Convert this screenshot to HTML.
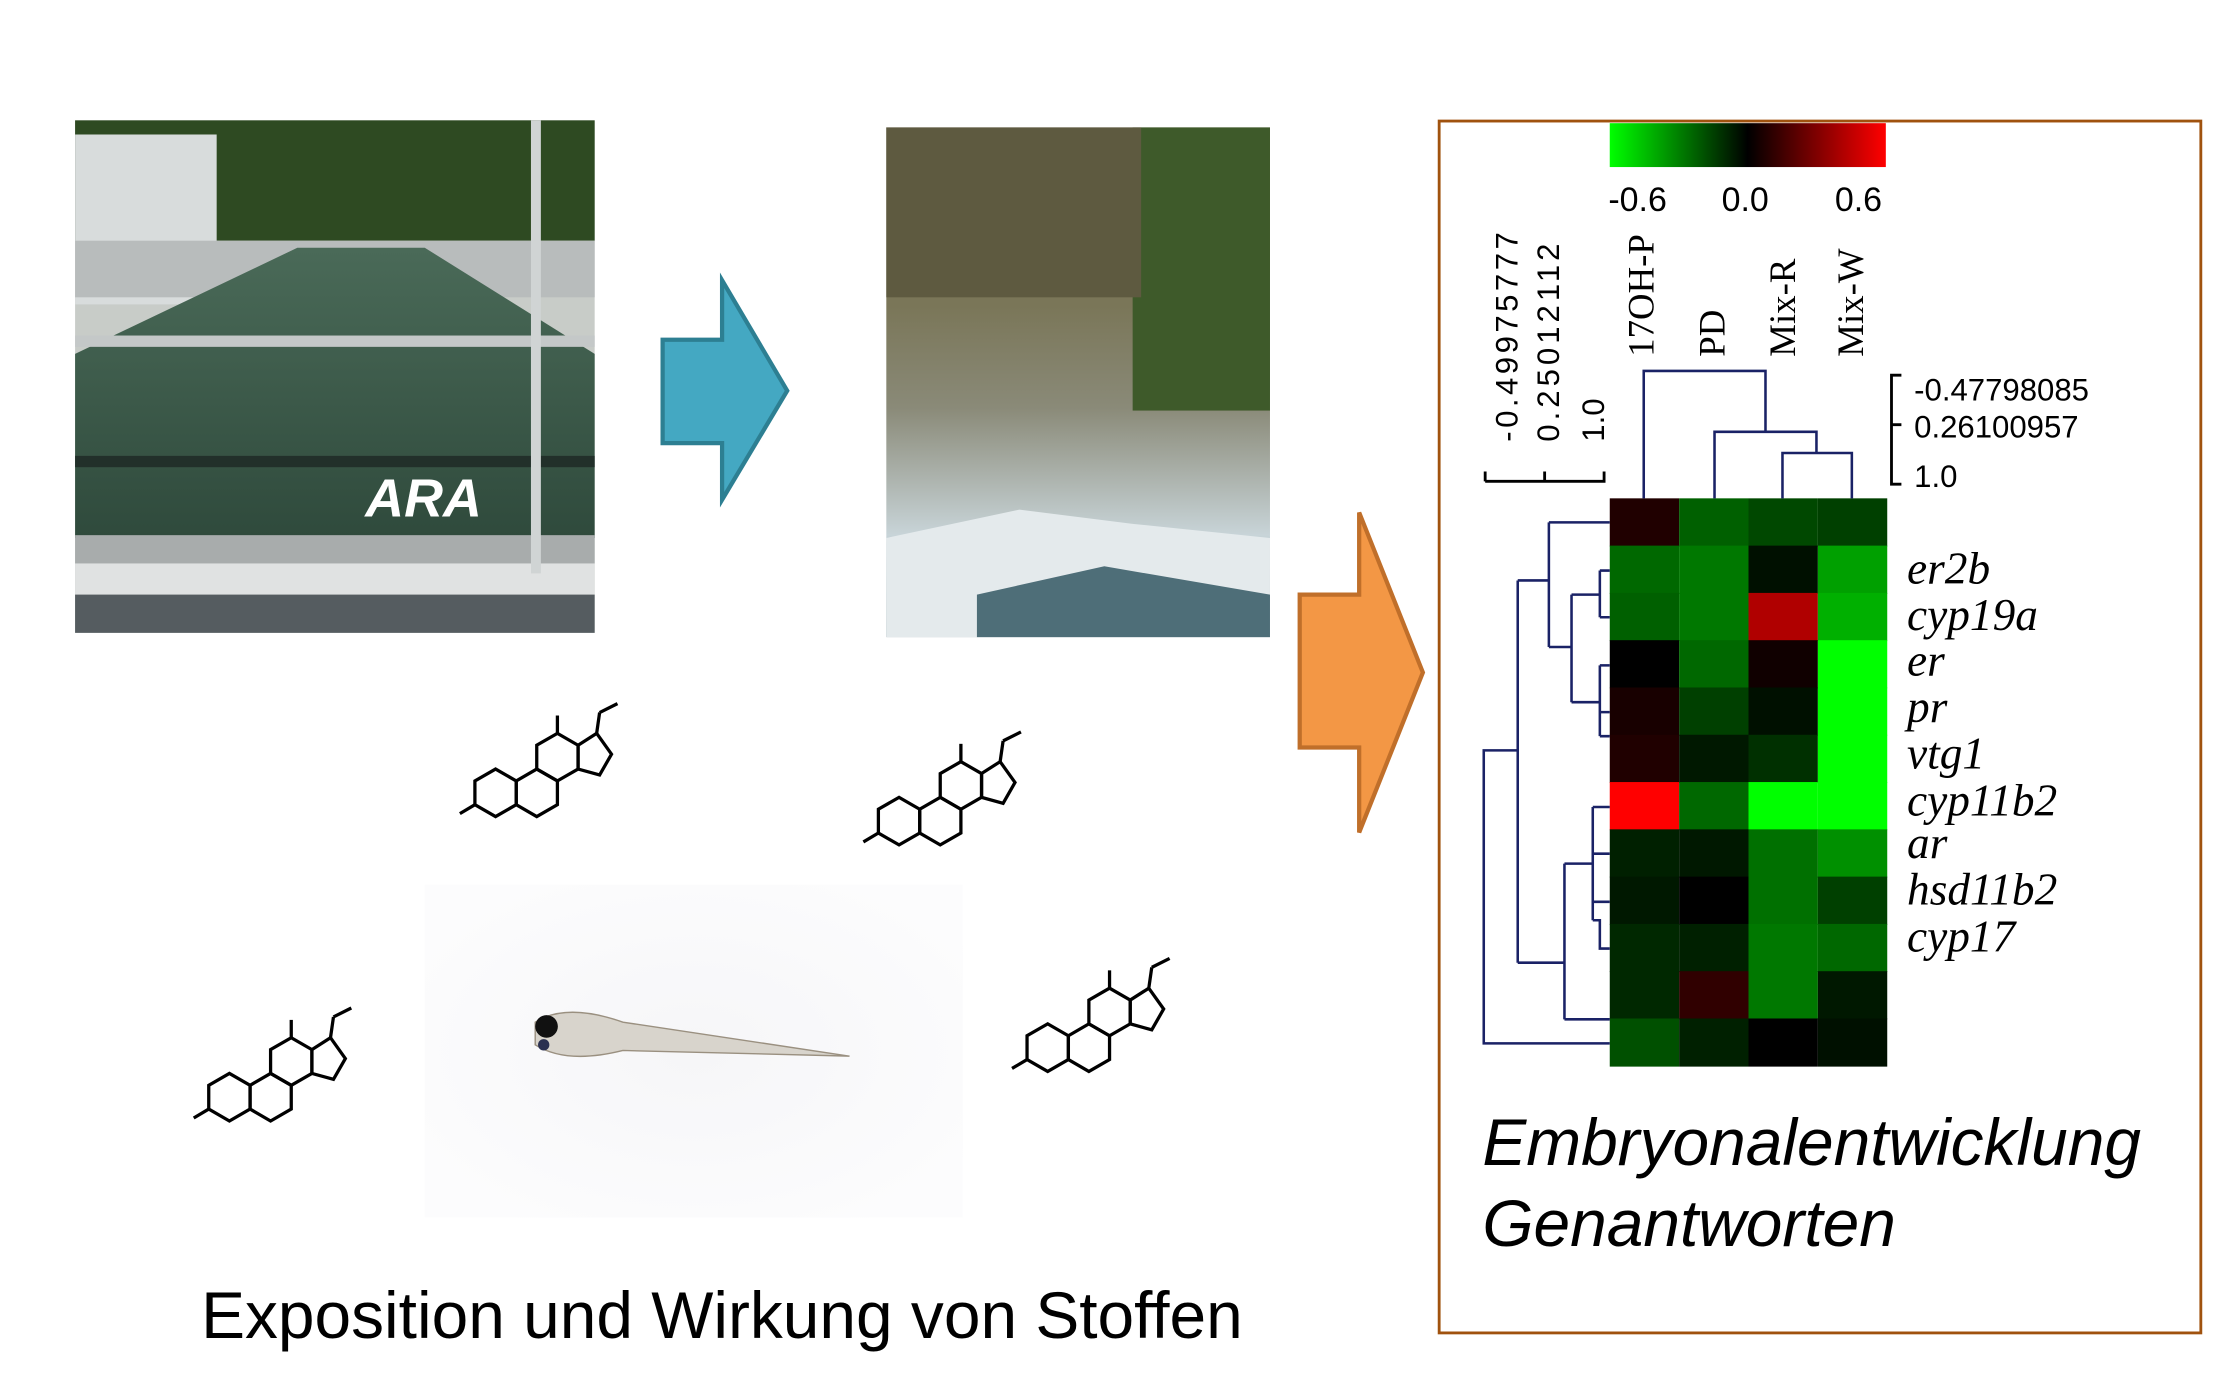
<!DOCTYPE html>
<html><head><meta charset="utf-8"><style>html,body{margin:0;padding:0;background:#fff}svg{display:block}</style></head><body>
<svg width="2220" height="1387" viewBox="0 0 1568 979.7" xmlns="http://www.w3.org/2000/svg">
<defs>
<linearGradient id="cb" x1="0" x2="1"><stop offset="0" stop-color="#00ff00"/><stop offset="0.5" stop-color="#000"/><stop offset="1" stop-color="#ff0000"/></linearGradient>
<linearGradient id="wat" x1="0" y1="0" x2="0" y2="1"><stop offset="0" stop-color="#4a6a58"/><stop offset="1" stop-color="#2f4a3c"/></linearGradient>
<linearGradient id="riv" x1="0" y1="0" x2="0" y2="1"><stop offset="0" stop-color="#6f6a50"/><stop offset="0.35" stop-color="#7a7658"/><stop offset="0.55" stop-color="#8a8a78"/><stop offset="0.8" stop-color="#c8d4d8"/><stop offset="1" stop-color="#5c7c84"/></linearGradient>
<radialGradient id="fishbg" cx="0.5" cy="0.5" r="0.6"><stop offset="0" stop-color="#f6f6f8"/><stop offset="1" stop-color="#fcfcfd"/></radialGradient>
<g id="ster" fill="none" stroke="#000" stroke-width="2.2">
<polygon points="13.9,-8 0,-16 -13.9,-8 -13.9,8 0,16 13.9,8"/>
<polygon points="41.6,-8 27.7,-16 13.9,-8 13.9,8 27.7,16 41.6,8"/>
<polygon points="55.5,-32 41.6,-40 27.7,-32 27.7,-16 41.6,-8 55.5,-16"/>
<polygon points="55.5,-32 55.5,-16 70,-12 78,-26 68,-40"/>
<line x1="-13.9" y1="8" x2="-24" y2="14"/><line x1="41.6" y1="-40" x2="41.6" y2="-52"/><line x1="68" y1="-40" x2="70" y2="-54"/><line x1="70" y1="-54" x2="82" y2="-60"/>
</g>
</defs>
<rect width="1568" height="979.7" fill="#fff"/>
<!-- photo 1 -->
<rect x="53" y="85" width="367" height="362" fill="#c8ccc8"/>
<rect x="53" y="85" width="367" height="85" fill="#2e4a22"/>
<rect x="53" y="95" width="100" height="120" fill="#d8dcdc"/>
<rect x="53" y="170" width="367" height="40" fill="#b8bcbc"/>
<polygon points="53,250 210,175 300,175 420,250 420,380 53,380" fill="url(#wat)"/>
<rect x="53" y="237" width="367" height="8" fill="#c4c8c8"/>
<rect x="53" y="322" width="367" height="8" fill="#22302a"/>
<rect x="53" y="378" width="367" height="20" fill="#a8acac"/>
<rect x="53" y="398" width="367" height="22" fill="#e0e2e2"/>
<rect x="53" y="420" width="367" height="27" fill="#555c60"/>
<rect x="375" y="85" width="7" height="320" fill="#d0d4d4"/>
<text x="258" y="365" font-family="Liberation Sans, sans-serif" font-size="38" font-weight="bold" font-style="italic" fill="#fff">ARA</text>
<!-- blue arrow -->
<polygon points="468,240 510,240 510,198 556,276 510,353 510,313 468,313" fill="#44a8c2" stroke="#2d7f92" stroke-width="3"/>
<!-- photo 2 -->
<rect x="626" y="90" width="271" height="360" fill="url(#riv)"/>
<rect x="800" y="90" width="97" height="200" fill="#3e5a2a"/>
<rect x="626" y="90" width="180" height="120" fill="#5e5a40"/>
<polygon points="626,380 720,360 800,370 897,380 897,450 626,450" fill="#e4eaec"/>
<polygon points="690,420 780,400 897,420 897,450 690,450" fill="#4e6e78"/>
<!-- orange arrow -->
<polygon points="918,420 960,420 960,362 1005,475 960,588 960,528 918,528" fill="#f39745" stroke="#c06f2a" stroke-width="3"/>
<!-- molecules -->
<use href="#ster" transform="translate(350,560) scale(1.05)"/>
<use href="#ster" transform="translate(635,580) scale(1.05)"/>
<use href="#ster" transform="translate(162,775) scale(1.05)"/>
<use href="#ster" transform="translate(740,740) scale(1.05)"/>
<!-- fish area -->
<rect x="300" y="625" width="380" height="235" fill="url(#fishbg)"/>
<path d="M378,722 Q400,708 440,722 L600,746 L440,742 Q400,752 378,738 Z" fill="#d8d4cc" stroke="#9a9080" stroke-width="1"/>
<circle cx="386" cy="725" r="8" fill="#111"/>
<circle cx="384" cy="738" r="4" fill="#2a3050"/>
<!-- bottom text -->
<text x="142" y="945" font-family="Liberation Sans, sans-serif" font-size="46.5" fill="#000">Exposition und Wirkung von Stoffen</text>
<!-- box -->
<rect x="1016.5" y="85.5" width="538" height="856" fill="#fff" stroke="#a0520e" stroke-width="2"/>
<rect x="1137" y="87" width="195" height="31" fill="url(#cb)"/>
<g font-family="Liberation Sans, sans-serif" font-size="24" fill="#000">
<text x="1136" y="149">-0.6</text><text x="1216" y="149">0.0</text><text x="1296" y="149">0.6</text>
</g>
<g font-family="Liberation Sans, sans-serif" font-size="22" fill="#000">
<text transform="translate(1072,312) rotate(-90)" textLength="148">-0.49975777</text>
<text transform="translate(1101,312) rotate(-90)" textLength="140">0.25012112</text>
<text transform="translate(1133,312) rotate(-90)">1.0</text>
<text x="1352" y="283">-0.47798085</text><text x="1352" y="309">0.26100957</text><text x="1352" y="344">1.0</text>
</g>
<g font-family="Liberation Serif, serif" font-size="26" fill="#000">
<text transform="translate(1168,252) rotate(-90)">17OH-P</text>
<text transform="translate(1218,252) rotate(-90)">PD</text>
<text transform="translate(1268,252) rotate(-90)">Mix-R</text>
<text transform="translate(1316,252) rotate(-90)">Mix-W</text>
</g>
<g fill="none" stroke="#000" stroke-width="2">
<path d="M1049,340 V333 M1049,340 H1133 V333 M1091,340 V333"/>
<path d="M1343,265 H1336 V342 H1343 M1336,300 H1343"/>
</g>
<!-- heatmap -->
<g>
<rect x="1137" y="352.0" width="49" height="34" fill="#200000"/><rect x="1186" y="352.0" width="49" height="34" fill="#006000"/><rect x="1235" y="352.0" width="49" height="34" fill="#004800"/><rect x="1284" y="352.0" width="49" height="34" fill="#004000"/>
<rect x="1137" y="385.4" width="49" height="34" fill="#006800"/><rect x="1186" y="385.4" width="49" height="34" fill="#007800"/><rect x="1235" y="385.4" width="49" height="34" fill="#001000"/><rect x="1284" y="385.4" width="49" height="34" fill="#00a000"/>
<rect x="1137" y="418.8" width="49" height="34" fill="#006000"/><rect x="1186" y="418.8" width="49" height="34" fill="#007800"/><rect x="1235" y="418.8" width="49" height="34" fill="#b00000"/><rect x="1284" y="418.8" width="49" height="34" fill="#00b000"/>
<rect x="1137" y="452.2" width="49" height="34" fill="#000000"/><rect x="1186" y="452.2" width="49" height="34" fill="#006800"/><rect x="1235" y="452.2" width="49" height="34" fill="#100000"/><rect x="1284" y="452.2" width="49" height="34" fill="#00ff00"/>
<rect x="1137" y="485.6" width="49" height="34" fill="#180000"/><rect x="1186" y="485.6" width="49" height="34" fill="#004000"/><rect x="1235" y="485.6" width="49" height="34" fill="#001000"/><rect x="1284" y="485.6" width="49" height="34" fill="#00ff00"/>
<rect x="1137" y="519.0" width="49" height="34" fill="#200000"/><rect x="1186" y="519.0" width="49" height="34" fill="#001800"/><rect x="1235" y="519.0" width="49" height="34" fill="#003000"/><rect x="1284" y="519.0" width="49" height="34" fill="#00ff00"/>
<rect x="1137" y="552.4" width="49" height="34" fill="#ff0000"/><rect x="1186" y="552.4" width="49" height="34" fill="#006800"/><rect x="1235" y="552.4" width="49" height="34" fill="#00ff00"/><rect x="1284" y="552.4" width="49" height="34" fill="#00ff00"/>
<rect x="1137" y="585.8" width="49" height="34" fill="#002000"/><rect x="1186" y="585.8" width="49" height="34" fill="#001800"/><rect x="1235" y="585.8" width="49" height="34" fill="#007000"/><rect x="1284" y="585.8" width="49" height="34" fill="#009000"/>
<rect x="1137" y="619.2" width="49" height="34" fill="#001800"/><rect x="1186" y="619.2" width="49" height="34" fill="#000000"/><rect x="1235" y="619.2" width="49" height="34" fill="#007000"/><rect x="1284" y="619.2" width="49" height="34" fill="#004000"/>
<rect x="1137" y="652.6" width="49" height="34" fill="#002800"/><rect x="1186" y="652.6" width="49" height="34" fill="#002000"/><rect x="1235" y="652.6" width="49" height="34" fill="#007800"/><rect x="1284" y="652.6" width="49" height="34" fill="#006800"/>
<rect x="1137" y="686.0" width="49" height="34" fill="#002800"/><rect x="1186" y="686.0" width="49" height="34" fill="#300000"/><rect x="1235" y="686.0" width="49" height="34" fill="#007800"/><rect x="1284" y="686.0" width="49" height="34" fill="#001800"/>
<rect x="1137" y="719.4" width="49" height="34" fill="#005000"/><rect x="1186" y="719.4" width="49" height="34" fill="#002000"/><rect x="1235" y="719.4" width="49" height="34" fill="#000000"/><rect x="1284" y="719.4" width="49" height="34" fill="#001000"/>
</g>
<!-- dendrograms -->
<g fill="none" stroke="#1a2266" stroke-width="1.8">
<path d="M1161,352 V262 H1247 V305 M1211,352 V305 H1283 V320 M1259,352 V320 H1308 V352"/>
<path d="M1137,737 H1048 V530 H1072 M1072,410 V680 M1072,410 H1094 M1094,369 V457 M1094,369 H1137 M1094,457 H1110 M1110,420 V496 M1110,420 H1130 M1130,403 V436 M1130,403 H1137 M1130,436 H1137 M1110,496 H1130 M1130,470 V520 M1130,470 H1137 M1130,503 H1137 M1130,520 H1137 M1072,680 H1105 M1105,610 V720 M1105,720 H1137 M1105,610 H1125 M1125,570 V650 M1125,570 H1137 M1125,603 H1137 M1125,637 H1137 M1125,650 H1130 V670 H1137"/>
</g>
<g font-family="Liberation Serif, serif" font-size="32" font-style="italic" fill="#000">
<text x="1347" y="412">er2b</text><text x="1347" y="445">cyp19a</text><text x="1347" y="477">er</text><text x="1347" y="510">pr</text><text x="1347" y="543">vtg1</text><text x="1347" y="576">cyp11b2</text><text x="1347" y="606">ar</text><text x="1347" y="639">hsd11b2</text><text x="1347" y="672">cyp17</text>
</g>
<g font-family="Liberation Sans, sans-serif" font-size="46.5" font-style="italic" fill="#000">
<text x="1047" y="823">Embryonalentwicklung</text>
<text x="1047" y="880">Genantworten</text>
</g>
</svg>
</body></html>
